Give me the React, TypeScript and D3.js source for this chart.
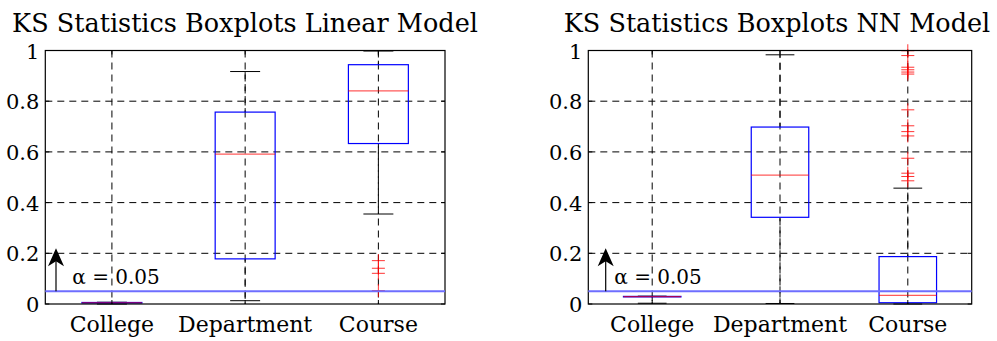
import React from "react";
import * as d3 from "d3";

// categories and tick labels
const categories = ["College", "Department", "Course"];
const yTicks = [0, 0.2, 0.4, 0.6, 0.8, 1];
const alpha = 0.05;
const arrowTop = 0.22;

// Linear model box stats
const linearMin = [0.0, 0.013, 0.355];
const linearQ1 = [0.004, 0.178, 0.633];
const linearMedian = [0.005, 0.591, 0.841];
const linearQ3 = [0.006, 0.757, 0.944];
const linearMax = [0.007, 0.917, 0.998];
const linearOutliers = [[], [], [0.171, 0.141, 0.121, 0.053]];

// NN model box stats
const nnMin = [0.003, 0.002, 0.0];
const nnQ1 = [0.028, 0.342, 0.005];
const nnMedian = [0.029, 0.508, 0.034];
const nnQ3 = [0.03, 0.698, 0.187];
const nnMax = [0.031, 0.983, 0.457];
const nnOutliers = [
  [],
  [],
  [0.999, 0.98, 0.934, 0.924, 0.915, 0.907, 0.766, 0.703, 0.68, 0.663, 0.575, 0.516, 0.503, 0.486],
];

const FONT = "DejaVu Serif";
const TOP = 50.5;
const BOTTOM = 304;

type PanelProps = {
  title: string;
  left: number;
  right: number;
  titleX: number;
  arrowDx: number;
  textDx: number;
  mins: number[];
  q1: number[];
  medians: number[];
  q3: number[];
  maxs: number[];
  outliers: number[][];
};

const Panel = (p: PanelProps) => {
  const x = d3.scaleBand<string>().domain(categories).range([p.left, p.right]).padding(0);
  const y = d3.scaleLinear().domain([0, 1]).range([BOTTOM, TOP]);
  const bw = x.bandwidth();
  const boxW = bw * 0.45;
  const capW = boxW / 2;
  const cx = (c: string) => (x(c) as number) + bw / 2;
  const dash = "7,5";
  const arrowX = p.left + p.arrowDx;
  const tipY = y(arrowTop);

  return (
    <g>
      <text x={p.titleX} y={32} textAnchor="middle" fontFamily={FONT} fontSize={25.5} fill="#000">
        {p.title}
      </text>

      {/* grid */}
      {yTicks.slice(1, -1).map((t) => (
        <line key={"gy" + t} x1={p.left} x2={p.right} y1={y(t)} y2={y(t)} stroke="#000" strokeDasharray={dash} strokeWidth={1} />
      ))}
      {categories.map((c) => (
        <line key={"gx" + c} x1={cx(c)} x2={cx(c)} y1={TOP} y2={BOTTOM} stroke="#000" strokeDasharray={dash} strokeWidth={1} />
      ))}

      {/* boxes */}
      {categories.map((c, i) => {
        const xc = cx(c);
        return (
          <g key={"b" + c}>
            <line x1={xc} x2={xc} y1={y(p.q3[i])} y2={y(p.maxs[i])} stroke="#000" strokeDasharray={dash} strokeDashoffset={3} />
            <line x1={xc} x2={xc} y1={y(p.q1[i])} y2={y(p.mins[i])} stroke="#000" strokeDasharray={dash} strokeDashoffset={3} />
            <line x1={xc - capW / 2} x2={xc + capW / 2} y1={y(p.maxs[i])} y2={y(p.maxs[i])} stroke="#000" />
            <line x1={xc - capW / 2} x2={xc + capW / 2} y1={y(p.mins[i])} y2={y(p.mins[i])} stroke="#000" />
            <rect
              x={xc - boxW / 2}
              y={y(p.q3[i])}
              width={boxW}
              height={y(p.q1[i]) - y(p.q3[i])}
              fill="none"
              stroke="#0000ff"
              strokeWidth={1.2}
            />
            <line x1={xc - boxW / 2} x2={xc + boxW / 2} y1={y(p.medians[i])} y2={y(p.medians[i])} stroke="#ff0000" strokeOpacity={0.65} strokeWidth={1.2} />
            {p.outliers[i].map((v, j) => (
              <g key={j} stroke="#ff0000" strokeOpacity={0.8} strokeWidth={1}>
                <line x1={xc - 6.5} x2={xc + 6.5} y1={y(v)} y2={y(v)} />
                <line x1={xc} x2={xc} y1={y(v) - 6.5} y2={y(v) + 6.5} />
              </g>
            ))}
          </g>
        );
      })}

      {/* axes frame */}
      <rect x={p.left} y={TOP} width={p.right - p.left} height={BOTTOM - TOP} fill="none" stroke="#000" strokeWidth={1.2} />
      {yTicks.map((t) => (
        <g key={"t" + t}>
          <line x1={p.left} x2={p.left + 4} y1={y(t)} y2={y(t)} stroke="#000" />
          <line x1={p.right} x2={p.right - 4} y1={y(t)} y2={y(t)} stroke="#000" />
          <text x={p.left - 6} y={y(t) + 8} textAnchor="end" fontFamily={FONT} fontSize={21} fill="#000">
            {String(t)}
          </text>
        </g>
      ))}
      {categories.map((c) => (
        <g key={"c" + c}>
          <line x1={cx(c)} x2={cx(c)} y1={TOP} y2={TOP + 4} stroke="#000" />
          <line x1={cx(c)} x2={cx(c)} y1={BOTTOM} y2={BOTTOM - 4} stroke="#000" />
          <text x={cx(c)} y={331.5} textAnchor="middle" fontFamily={FONT} fontSize={22} fill="#000">
            {c}
          </text>
        </g>
      ))}

      {/* alpha line and annotation */}
      <line x1={p.left} x2={p.right} y1={y(alpha)} y2={y(alpha)} stroke="#6e6eff" strokeWidth={2} />
      <line x1={arrowX} x2={arrowX} y1={y(alpha)} y2={tipY + 12} stroke="#000" strokeWidth={1.2} />
      <path
        d={`M${arrowX},${tipY} L${arrowX - 8},${tipY + 18} L${arrowX},${tipY + 13} L${arrowX + 8},${tipY + 18} Z`}
        fill="#000"
      />
      <text x={p.left + p.textDx} y={284} fontFamily={FONT} fontSize={20} fill="#000">
        α = 0.05
      </text>
    </g>
  );
};

export default function App() {
  return (
    <svg width={997} height={341} style={{ position: "absolute", left: 0, top: 0, background: "#fff" }}>
      <rect width={997} height={341} fill="#fff" />
      <Panel
        title="KS Statistics Boxplots Linear Model"
        left={45.3}
        right={445}
        titleX={245}
        arrowDx={10.7}
        textDx={27}
        mins={linearMin}
        q1={linearQ1}
        medians={linearMedian}
        q3={linearQ3}
        maxs={linearMax}
        outliers={linearOutliers}
      />
      <Panel
        title="KS Statistics Boxplots NN Model"
        left={588.3}
        right={971.7}
        titleX={777}
        arrowDx={17.4}
        textDx={26}
        mins={nnMin}
        q1={nnQ1}
        medians={nnMedian}
        q3={nnQ3}
        maxs={nnMax}
        outliers={nnOutliers}
      />
    </svg>
  );
}
